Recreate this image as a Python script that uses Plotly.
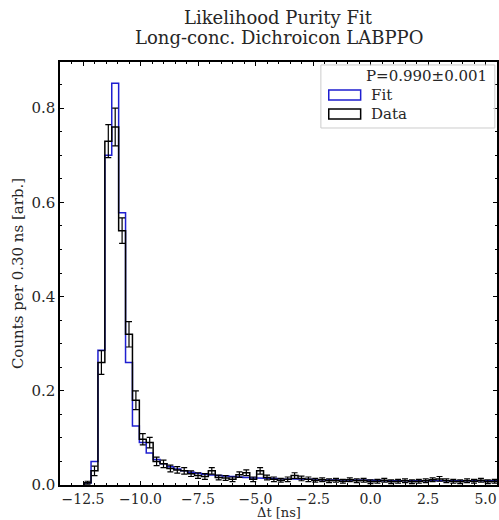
import plotly.graph_objects as go

# bin centres (0.30 ns bins)
bin_centers = [-12.3, -12.0, -11.7, -11.4, -11.1, -10.8, -10.5, -10.2, -9.9, -9.6,
               -9.3, -9.0, -8.7, -8.4, -8.1, -7.8, -7.5, -7.2, -6.9, -6.6,
               -6.3, -6.0, -5.7, -5.4, -5.1, -4.8, -4.5, -4.2, -3.9, -3.6,
               -3.3, -3.0, -2.7, -2.4, -2.1, -1.8, -1.5, -1.2, -0.9, -0.6,
               -0.3, 0.0, 0.3, 0.6, 0.9, 1.2, 1.5, 1.8, 2.1, 2.4,
               2.7, 3.0, 3.3, 3.6, 3.9, 4.2, 4.5, 4.8, 5.1, 5.4]
bin_width = 0.30

data_counts = [0.005, 0.030, 0.260, 0.730, 0.760, 0.540, 0.320, 0.180, 0.097, 0.090,
               0.050, 0.045, 0.035, 0.032, 0.030, 0.024, 0.020, 0.018, 0.030, 0.016,
               0.015, 0.012, 0.022, 0.026, 0.012, 0.030, 0.016, 0.012, 0.010, 0.012,
               0.020, 0.014, 0.012, 0.010, 0.011, 0.009, 0.010, 0.008, 0.011, 0.009,
               0.010, 0.007, 0.008, 0.010, 0.007, 0.008, 0.009, 0.007, 0.008, 0.009,
               0.011, 0.013, 0.009, 0.008, 0.007, 0.009, 0.008, 0.010, 0.007, 0.008]
data_err = [0.003, 0.010, 0.025, 0.035, 0.040, 0.027, 0.027, 0.020, 0.012, 0.011,
            0.009, 0.008, 0.007, 0.007, 0.007, 0.006, 0.006, 0.006, 0.007, 0.005,
            0.005, 0.005, 0.006, 0.006, 0.005, 0.007, 0.005, 0.005, 0.004, 0.005,
            0.006, 0.005, 0.005, 0.004, 0.004, 0.004, 0.004, 0.004, 0.004, 0.004,
            0.004, 0.004, 0.004, 0.004, 0.004, 0.004, 0.004, 0.004, 0.004, 0.004,
            0.004, 0.005, 0.004, 0.004, 0.004, 0.004, 0.004, 0.004, 0.004, 0.004]
fit_counts = [0.004, 0.050, 0.286, 0.700, 0.853, 0.578, 0.260, 0.125, 0.090, 0.068,
              0.054, 0.045, 0.039, 0.034, 0.030, 0.027, 0.025, 0.023, 0.021, 0.020,
              0.019, 0.018, 0.017, 0.016, 0.015, 0.015, 0.014, 0.014, 0.013, 0.013,
              0.012, 0.012, 0.012, 0.011, 0.011, 0.011, 0.010, 0.010, 0.010, 0.010,
              0.010, 0.010, 0.010, 0.009, 0.009, 0.009, 0.009, 0.009, 0.009, 0.009,
              0.009, 0.009, 0.009, 0.009, 0.009, 0.009, 0.009, 0.009, 0.009, 0.009]

title_lines = ["Likelihood Purity Fit", "Long-conc. Dichroicon LABPPO"]
purity_label = "P=0.990±0.001"
FONT = "DejaVu Serif"
TXT = '#262626'


def step_outline(centers, values, width):
    """matplotlib histtype='step' 윤곽선"""
    xs = [centers[0] - width / 2]
    ys = [0]
    for c, v in zip(centers, values):
        xs += [c - width / 2, c + width / 2]
        ys += [v, v]
    xs.append(centers[-1] + width / 2)
    ys.append(0)
    return xs, ys


fig = go.Figure()

fx, fy = step_outline(bin_centers, fit_counts, bin_width)
fig.add_trace(go.Scatter(x=fx, y=fy, mode='lines', name='Fit',
                         line=dict(color='#1f1fd0', width=1.5)))

dx, dy = step_outline(bin_centers, data_counts, bin_width)
fig.add_trace(go.Scatter(x=dx, y=dy, mode='lines', name='Data',
                         line=dict(color='black', width=1.5)))

# 오차 막대
fig.add_trace(go.Scatter(
    x=bin_centers, y=data_counts, mode='markers',
    marker=dict(size=1, color='rgba(0,0,0,0)'),
    error_y=dict(type='data', array=data_err, color='black', thickness=1.2, width=3),
    showlegend=False
))

# 제목 (두 줄)
fig.add_annotation(text=title_lines[0], xref='paper', yref='paper', x=0.5, y=1.106,
                   xanchor='center', yanchor='middle', showarrow=False,
                   font=dict(family=FONT, size=18, color=TXT))
fig.add_annotation(text=title_lines[1], xref='paper', yref='paper', x=0.5, y=1.057,
                   xanchor='center', yanchor='middle', showarrow=False,
                   font=dict(family=FONT, size=18, color=TXT))

# x축 제목
fig.add_annotation(text='Δt [ns]', xref='paper', yref='paper', x=0.5, y=-0.066,
                   xanchor='center', yanchor='middle', showarrow=False,
                   font=dict(family=FONT, size=13, color=TXT))

# 범례 (수동)
fig.add_shape(type='rect', xref='paper', yref='paper',
              x0=0.597, x1=0.995, y0=0.844, y1=0.993,
              line=dict(color='#cccccc', width=1), fillcolor='rgba(255,255,255,0.8)')
fig.add_annotation(text=purity_label, xref='paper', yref='paper', x=0.982, y=0.967,
                   xanchor='right', yanchor='middle', showarrow=False,
                   font=dict(family=FONT, size=15, color=TXT))
fig.add_shape(type='rect', xref='paper', yref='paper',
              x0=0.615, x1=0.688, y0=0.910, y1=0.934,
              line=dict(color='#1f1fd0', width=1.5))
fig.add_annotation(text='Fit', xref='paper', yref='paper', x=0.706, y=0.922,
                   xanchor='left', yanchor='middle', showarrow=False,
                   font=dict(family=FONT, size=15, color=TXT))
fig.add_shape(type='rect', xref='paper', yref='paper',
              x0=0.615, x1=0.688, y0=0.865, y1=0.889,
              line=dict(color='black', width=1.5))
fig.add_annotation(text='Data', xref='paper', yref='paper', x=0.706, y=0.877,
                   xanchor='left', yanchor='middle', showarrow=False,
                   font=dict(family=FONT, size=15, color=TXT))

fig.update_layout(
    width=499, height=520,
    margin=dict(l=60, r=0, t=62, b=35),
    plot_bgcolor='white', paper_bgcolor='white',
    showlegend=False,
    font=dict(family=FONT, size=15, color=TXT),
)

fig.update_xaxes(
    range=[-13.5, 5.5], tick0=0, dtick=2.5, tickformat='.1f',
    showgrid=False, zeroline=False,
    showline=True, linecolor='black', linewidth=1.5, mirror='allticks',
    ticks='inside', ticklen=4, tickwidth=1, tickcolor='black',
    minor=dict(ticks='inside', ticklen=2, dtick=0.5, tick0=0, tickcolor='black'),
    tickfont=dict(size=14),
)
fig.update_yaxes(
    range=[0, 0.898], tick0=0, dtick=0.2, tickformat='.1f',
    showgrid=False, zeroline=False,
    showline=True, linecolor='black', linewidth=1.5, mirror='allticks',
    ticks='inside', ticklen=4, tickwidth=1, tickcolor='black',
    minor=dict(ticks='inside', ticklen=2, dtick=0.05, tick0=0, tickcolor='black'),
    title=dict(text='Counts per 0.30 ns [arb.]', font=dict(size=15), standoff=4),
    tickfont=dict(size=15),
)

fig.write_html("out.html", config={'displayModeBar': False},
               post_script="document.body.style.margin='0';")
